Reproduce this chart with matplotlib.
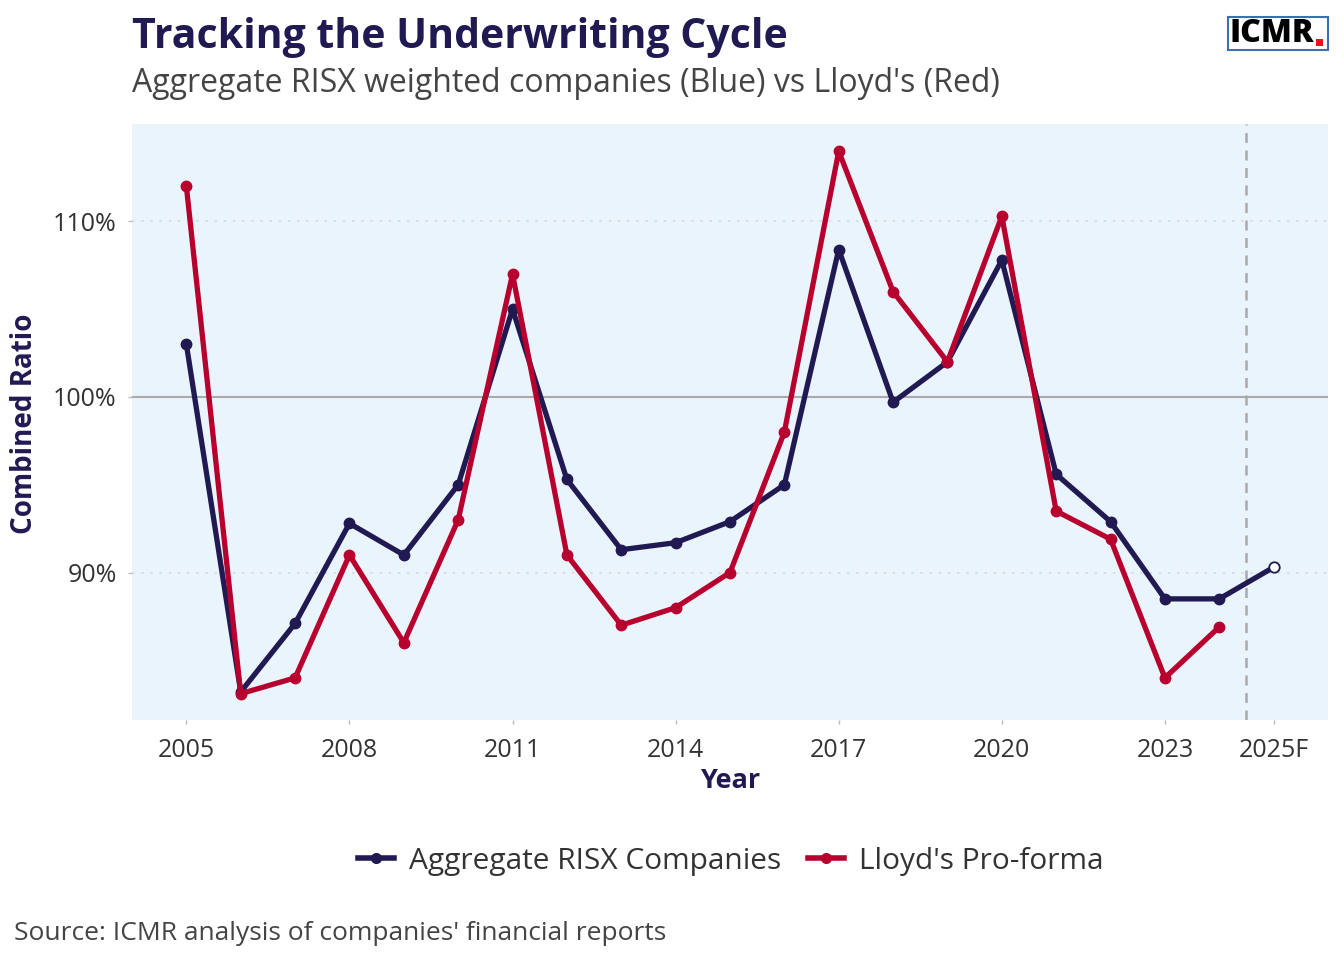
import matplotlib
matplotlib.use("Agg")
import matplotlib.pyplot as plt
from matplotlib.patches import Rectangle
from matplotlib.lines import Line2D

plt.rcParams['font.family'] = ['Open Sans', 'DejaVu Sans']

years = [2005, 2006, 2007, 2008, 2009, 2010, 2011, 2012, 2013, 2014,
         2015, 2016, 2017, 2018, 2019, 2020, 2021, 2022, 2023, 2024]
risx = [103.0, 83.2, 87.1, 92.8, 91.0, 95.0, 105.0, 95.3, 91.3, 91.7,
        92.9, 95.0, 108.4, 99.7, 102.0, 107.8, 95.6, 92.9, 88.5, 88.5]
forecast_year = 2025
risx_forecast = 90.3
lloyds = [112.0, 83.1, 84.0, 91.0, 86.0, 93.0, 107.0, 91.0, 87.0, 88.0,
          90.0, 98.0, 114.0, 106.0, 102.0, 110.3, 93.5, 91.9, 84.0, 86.9]
xtick_pos = [2005, 2008, 2011, 2014, 2017, 2020, 2023, 2025]
xtick_labels = ['2005', '2008', '2011', '2014', '2017', '2020', '2023', '2025F']
ytick_pos = [90, 100, 110]
ytick_labels = ['90%', '100%', '110%']

NAVY = '#211a52'
RED = '#b8002e'
BG = '#eaf4fd'

fig = plt.figure(figsize=(13.44, 9.6), dpi=100)
ax = fig.add_axes([132/1344, 1-720/960, (1328-132)/1344, (720-124)/960])
ax.set_facecolor(BG)
for s in ax.spines.values():
    s.set_visible(False)

ax.set_xlim(2004.0, 2026.0)
ax.set_ylim(81.6, 115.55)

for y in [90, 110]:
    ax.axhline(y, color='#d9d9d9', lw=1.2, ls=(0, (1.5, 4)), zorder=1)
ax.axhline(100, color='#aaaaaa', lw=1.5, zorder=1)
ax.axvline(2024.5, color='#aaaaaa', lw=1.8, ls=(0, (4, 3)), zorder=1)

ax.plot([years[-1], forecast_year], [risx[-1], risx_forecast], color=NAVY, lw=3.8, zorder=3,
        solid_capstyle='round')
ax.plot(years, risx, color=NAVY, lw=3.8, marker='o', ms=7.5, zorder=3,
        solid_joinstyle='round')
ax.plot([forecast_year], [risx_forecast], marker='o', ms=7.5, mfc='white', mec=NAVY,
        mew=1.3, zorder=4, ls='none')
ax.plot(years, lloyds, color=RED, lw=3.8, marker='o', ms=7.5, zorder=4,
        solid_joinstyle='round')

ax.set_xticks(xtick_pos)
ax.set_xticklabels(xtick_labels)
ax.set_yticks(ytick_pos)
ax.set_yticklabels(ytick_labels)
ax.tick_params(axis='both', colors='#bbbbbb', labelcolor='#333333', labelsize=18, length=3, width=1)
ax.tick_params(axis='x', pad=10)
ax.tick_params(axis='y', pad=8)

ax.set_xlabel('Year', fontsize=19.5, fontweight='bold', color=NAVY)
ax.xaxis.set_label_coords(0.5, (720-781)/596)
ax.xaxis.label.set_va('center')
ax.set_ylabel('Combined Ratio', fontsize=20, fontweight='bold', color=NAVY)
ax.yaxis.set_label_coords((25-132)/1196, (720-423.5)/596)
ax.yaxis.label.set_va('center')

fig.text(132/1344, 1-37/960, 'Tracking the Underwriting Cycle', fontsize=29.5, fontweight='bold',
         color=NAVY, va='center', ha='left')
fig.text(132/1344, 1-84/960, "Aggregate RISX weighted companies (Blue) vs Lloyd's (Red)",
         fontsize=23, color='#444444', va='center', ha='left')
fig.text(14/1344, 1-934/960, "Source: ICMR analysis of companies' financial reports",
         fontsize=19, color='#444444', va='center', ha='left')

# logo
fig.patches.append(Rectangle((1228/1344, 1-50/960), 100/1344, 33/960, transform=fig.transFigure,
                             fill=False, edgecolor='#3a6fb0', lw=1.5))
fig.text(1230/1344, 1-34/960, 'ICMR', fontsize=23, fontweight='heavy', color='black',
         va='center', ha='left')
fig.patches.append(Rectangle((1316/1344, 1-46/960), 7/1344, 7/960, transform=fig.transFigure,
                             facecolor='#e8141b', edgecolor='none'))

handles = [Line2D([], [], color=NAVY, lw=4, marker='o', ms=7),
           Line2D([], [], color=RED, lw=4, marker='o', ms=7)]
fig.legend(handles, ['Aggregate RISX Companies', "Lloyd's Pro-forma"], loc='center',
           bbox_to_anchor=(731/1344, 1-861/960), ncol=2, frameon=False, fontsize=21.5,
           handlelength=1.2, handletextpad=0.5, columnspacing=0.9, labelcolor='#333333')

fig.savefig('out.png', dpi=100, facecolor='white')
